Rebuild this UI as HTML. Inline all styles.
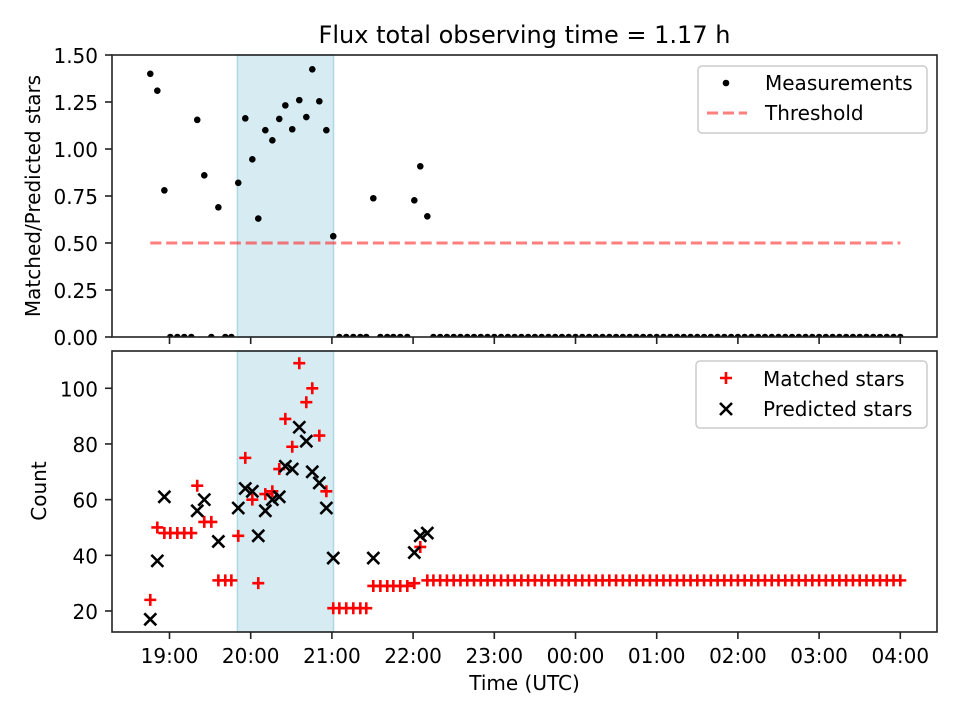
<!DOCTYPE html>
<html><head><meta charset="utf-8"><style>
body{margin:0;background:#fff;}
svg{display:block;font-family:"DejaVu Sans","Liberation Sans",sans-serif;}
</style></head><body>
<svg id="chart" width="960" height="720" xmlns="http://www.w3.org/2000/svg">
<defs>
<clipPath id="clipTop"><rect x="112" y="55" width="825" height="282"/></clipPath>
<clipPath id="clipBot"><rect x="112" y="351" width="825" height="281"/></clipPath>
</defs>
<text x="524.5" y="43" text-anchor="middle" font-size="24" fill="#000">Flux total observing time = 1.17 h</text>
<g id="topPanel"></g>
<g id="botPanel"></g>
</svg>
<script>
// times in minutes since 18:00 UTC
const times = [45.8,51.0,56.2,60.6,65.8,70.9,76.1,80.5,85.7,90.9,96.1,101.2,105.7,110.8,116.0,121.2,125.6,130.8,136.0,141.1,145.6,150.7,155.9,161.1,165.5,170.7,175.9,181.0,185.5,190.6,195.8,201.0,205.4,210.6,215.8,220.9,225.4,230.5,235.7,240.9,245.3,250.5,
255,260,265,270,275,280,285,290,295,300,305,310,315,320,325,330,335,340,345,350,355,360,365,370,375,380,385,390,395,400,405,410,415,420,425,430,435,440,445,450,455,460,465,470,475,480,485,490,495,500,505,510,515,520,525,530,535,540,545,550,555,560,565,570,575,580,585,590,595,600];
const ratioEarly = [1.40,1.31,0.78,0,0,0,0,1.155,0.86,0,0.69,0,0,0.82,1.163,0.945,0.63,1.10,1.046,1.16,1.232,1.105,1.26,1.17,1.424,1.254,1.10,0.536,0,0,0,0,0,0.738,0,0,0,0,0,0.727,0.908,0.642];
const matchedEarly = [24,50,48,48,48,48,48,65,52,52,31,31,31,47,75,60,30,62,63,71,89,79,109,95,100,83,63,21,21,21,21,21,21,29,29,29,29,29,29,30,43,31];
const predictedEarly = [17,38,61,null,null,null,null,56,60,null,45,null,null,57,64,63,47,56,60,61,72,71,86,81,70,66,57,39,null,null,null,null,null,39,null,null,null,null,null,41,47,48];
const lateMatched = 31;
const threshold = 0.5;
const threshStart = 45.8, threshEnd = 600;
const spanStart = 110.2, spanEnd = 181.2;
const xTickMinutes = [60,120,180,240,300,360,420,480,540,600];
const xTickLabels = ["19:00","20:00","21:00","22:00","23:00","00:00","01:00","02:00","03:00","04:00"];
const topTicks = [0,0.25,0.5,0.75,1.0,1.25,1.5];
const topTickLabels = ["0.00","0.25","0.50","0.75","1.00","1.25","1.50"];
const botTicks = [20,40,60,80,100];

const ratio = times.map((t,i)=> i<ratioEarly.length ? ratioEarly[i] : 0);
const matched = times.map((t,i)=> i<matchedEarly.length ? matchedEarly[i] : lateMatched);
const predicted = times.map((t,i)=> i<predictedEarly.length ? predictedEarly[i] : null);

const NS="http://www.w3.org/2000/svg";
const FS=20;
const xs = m => 169.5 + (m-60)/60*81.2;
const yTop = v => 337 - v*188;
const yBot = v => 611 - (v-20)*2.784;
function mk(tag, attrs, parent){const e=document.createElementNS(NS,tag);for(const k in attrs)e.setAttribute(k,attrs[k]);parent.appendChild(e);return e;}

const topG=document.getElementById('topPanel'), botG=document.getElementById('botPanel');

function panel(g, y0, y1, clip){
  let s=mk('rect',{x:xs(spanStart),y:y0,width:xs(spanEnd)-xs(spanStart),height:y1-y0,fill:'#add8e6','fill-opacity':0.5,stroke:'#add8e6','stroke-width':1.5},g);
  
  
  return mk('g',{'clip-path':'url(#'+clip+')'},g);
}
function frame(g,y0,y1,labels){
  const f=mk('rect',{x:112,y:y0,width:825,height:y1-y0,fill:'none',stroke:'#222','stroke-width':1.6},g);
  
  
  xTickMinutes.forEach((m,i)=>{
    const t=mk('line',{x1:xs(m),x2:xs(m),y1:y1,y2:y1+7,stroke:'#222','stroke-width':1.6},g);
    
    
    if(labels){
      const tx=mk('text',{x:xs(m),y:y1+31,'text-anchor':'middle','font-size':FS},g);
      tx.textContent=xTickLabels[i];
      
      
    }
  });
}
const DASH='11.1,4.8';

// TOP
const tdata=panel(topG,55,337,'clipTop');
const th=mk('line',{x1:xs(threshStart),x2:xs(threshEnd),y1:yTop(threshold),y2:yTop(threshold),stroke:'#ff0000','stroke-opacity':0.5,'stroke-width':3,'stroke-dasharray':DASH},tdata);


times.forEach((t,i)=>{
  const c=mk('circle',{cx:xs(t),cy:yTop(ratio[i]),r:3.3,fill:'#000'},tdata);
  
  
});
frame(topG,55,337,false);
topTicks.forEach((v,i)=>{
  const y=yTop(v);
  mk('line',{x1:105,x2:112,y1:y,y2:y,stroke:'#222','stroke-width':1.6},topG);
  const t=mk('text',{x:98,y:y+8,'text-anchor':'end','font-size':FS},topG);
  t.textContent=topTickLabels[i];
  
  
});
const yl1=mk('text',{x:0,y:0,'text-anchor':'middle','font-size':FS,transform:'translate(40,196) rotate(-90)'},topG);
yl1.textContent='Matched/Predicted stars';


const lg1=mk('g',{},topG);


mk('rect',{x:698,y:66,width:229,height:67,rx:4,fill:'#fff','fill-opacity':0.8,stroke:'#ccc','stroke-width':1.5},lg1);
mk('circle',{cx:726,cy:83,r:3.3,fill:'#000'},lg1);
let lt=mk('text',{x:765,y:90,'font-size':FS},lg1);lt.textContent='Measurements';
mk('line',{x1:707,x2:747,y1:113,y2:113,stroke:'#ff0000','stroke-opacity':0.5,'stroke-width':3,'stroke-dasharray':DASH},lg1);
lt=mk('text',{x:765,y:120,'font-size':FS},lg1);lt.textContent='Threshold';

// BOTTOM
const bdata=panel(botG,351,632,'clipBot');
function plus(cx,cy,g){return mk('path',{d:`M${cx-6},${cy}H${cx+6}M${cx},${cy-6}V${cy+6}`,stroke:'#ff0000','stroke-width':2.6,fill:'none'},g);}
function cross(cx,cy,g){return mk('path',{d:`M${cx-6},${cy-6}L${cx+6},${cy+6}M${cx-6},${cy+6}L${cx+6},${cy-6}`,stroke:'#000','stroke-width':2.6,fill:'none'},g);}
times.forEach((t,i)=>{
  const p=plus(xs(t),yBot(matched[i]),bdata);
  
  
});
times.forEach((t,i)=>{
  if(predicted[i]==null)return;
  const p=cross(xs(t),yBot(predicted[i]),bdata);
  
  
});
frame(botG,351,632,true);
botTicks.forEach(v=>{
  const y=yBot(v);
  mk('line',{x1:105,x2:112,y1:y,y2:y,stroke:'#222','stroke-width':1.6},botG);
  const t=mk('text',{x:98,y:y+8,'text-anchor':'end','font-size':FS},botG);
  t.textContent=String(v);
  
  
});
const yl2=mk('text',{x:0,y:0,'text-anchor':'middle','font-size':FS,transform:'translate(46,491) rotate(-90)'},botG);
yl2.textContent='Count';


const xl=mk('text',{x:524.5,y:690,'text-anchor':'middle','font-size':FS},botG);
xl.textContent='Time (UTC)';


const lg2=mk('g',{},botG);


mk('rect',{x:696,y:361,width:231,height:67,rx:4,fill:'#fff','fill-opacity':0.8,stroke:'#ccc','stroke-width':1.5},lg2);
plus(726,378,lg2);
lt=mk('text',{x:763,y:386,'font-size':FS},lg2);lt.textContent='Matched stars';
cross(726,409,lg2);
lt=mk('text',{x:763,y:416,'font-size':FS},lg2);lt.textContent='Predicted stars';
</script>
</body></html>
